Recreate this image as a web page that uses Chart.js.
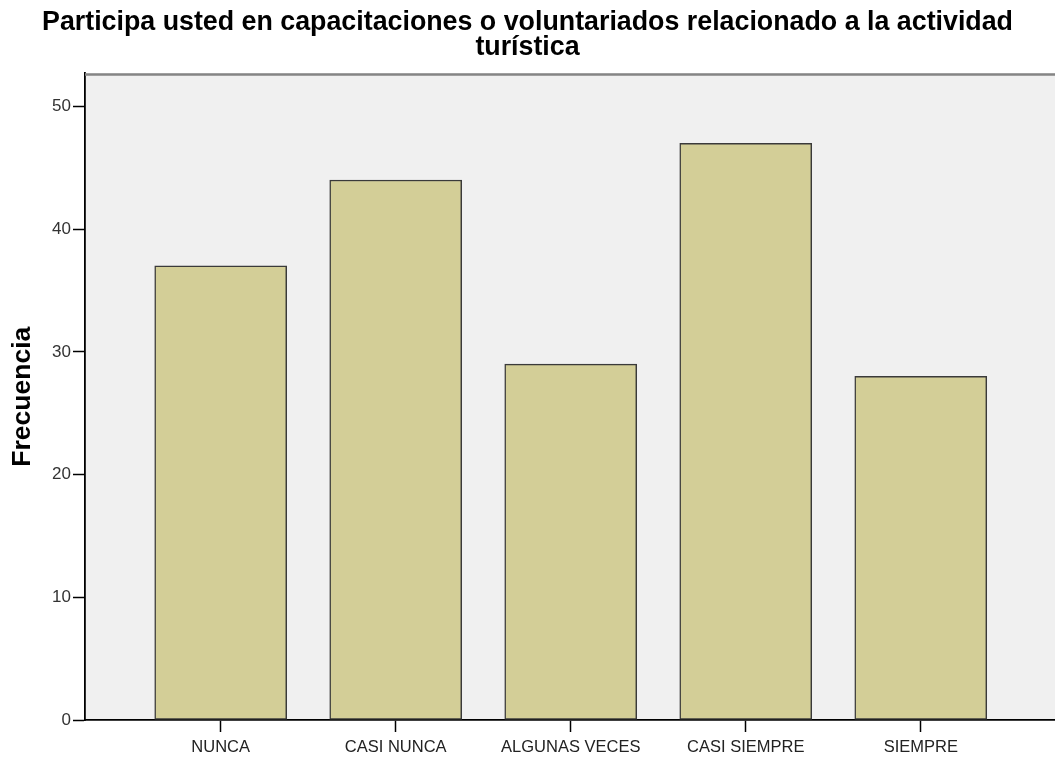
<!DOCTYPE html>
<html>
<head>
<meta charset="utf-8">
<script src="https://cdn.jsdelivr.net/npm/chart.js@4/dist/chart.umd.min.js"></script>
<style>
  body { margin: 0; background: #fff; }
</style>
</head>
<body>
<canvas id="myChart" width="1055" height="760"></canvas>
<script>
// categorias y frecuencias
var categorias = ['NUNCA', 'CASI NUNCA', 'ALGUNAS VECES', 'CASI SIEMPRE', 'SIEMPRE'];
var frecuencias = [37, 44, 29, 47, 28];
var yTicks = [0, 10, 20, 30, 40, 50];

var tituloLineas = ['Participa usted en capacitaciones o voluntariados relacionado a la actividad', 'turística'];

var barData = categorias.map(function (c, i) {
  return { x: i, y: frecuencias[i] };
});

// fondo gris del area del grafico + borde superior
var plotBg = {
  id: 'plotBg',
  beforeDraw: function (chart) {
    var a = chart.chartArea;
    var ctx = chart.ctx;
    ctx.save();
    ctx.fillStyle = '#f0f0f0';
    ctx.fillRect(a.left, a.top, a.right - a.left, a.bottom - a.top);
    ctx.restore();
  },
  afterDraw: function (chart) {
    var a = chart.chartArea;
    var ctx = chart.ctx;
    ctx.save();
    ctx.strokeStyle = '#858585';
    ctx.lineWidth = 2.5;
    ctx.beginPath();
    ctx.moveTo(a.left, a.top + 1);
    ctx.lineTo(a.right, a.top + 1);
    ctx.stroke();
    ctx.restore();
  }
};

var config = {
  type: 'bar',
  data: {
    datasets: [{
      data: barData,
      backgroundColor: '#d3ce97',
      borderColor: '#3a3a3a',
      borderWidth: 1.5,
      barThickness: 132,
      borderSkipped: false
    }]
  },
  options: {
    responsive: false,
    animation: false,
    devicePixelRatio: 1,
    layout: { padding: 0 },
    plugins: {
      legend: { display: false },
      tooltip: { enabled: false },
      title: {
        display: true,
        text: tituloLineas,
        color: '#000',
        font: { family: 'Liberation Sans', size: 26.8, weight: 'bold', lineHeight: 0.94 },
        padding: { top: 10, bottom: 13 }
      }
    },
    scales: {
      x: {
        type: 'linear',
        offset: false,
        min: -0.7754,
        max: 4.767,
        afterBuildTicks: function (scale) {
          scale.ticks = categorias.map(function (c, i) { return { value: i }; });
        },
        afterFit: function (scale) { scale.height = 40; },
        ticks: {
          autoSkip: false,
          maxRotation: 0,
          padding: 6,
          color: '#222',
          font: { family: 'Liberation Sans', size: 16.5 },
          callback: function (value) { return categorias[value]; }
        },
        grid: {
          display: true,
          offset: false,
          drawOnChartArea: false,
          drawTicks: true,
          tickLength: 12,
          tickColor: '#000',
          tickWidth: 1.5
        },
        border: { display: true, color: '#000', width: 1.8 }
      },
      y: {
        min: 0,
        max: 52.69,
        afterBuildTicks: function (scale) {
          scale.ticks = yTicks.map(function (v) { return { value: v }; });
        },
        afterFit: function (scale) { scale.width = 85; },
        ticks: {
          padding: 2,
          color: '#333',
          font: { family: 'Liberation Sans', size: 17 }
        },
        grid: {
          display: true,
          drawOnChartArea: false,
          drawTicks: true,
          tickLength: 12,
          tickColor: '#000',
          tickWidth: 1.5
        },
        border: { display: true, color: '#000', width: 1.8 },
        title: {
          display: true,
          text: 'Frecuencia',
          color: '#000',
          font: { family: 'Liberation Sans', size: 26.5, weight: 'bold', lineHeight: 1.2 },
          padding: { top: 7, bottom: 0 }
        }
      }
    }
  },
  plugins: [plotBg]
};

var ctx = document.getElementById('myChart').getContext('2d');
new Chart(ctx, config);
</script>
</body>
</html>
